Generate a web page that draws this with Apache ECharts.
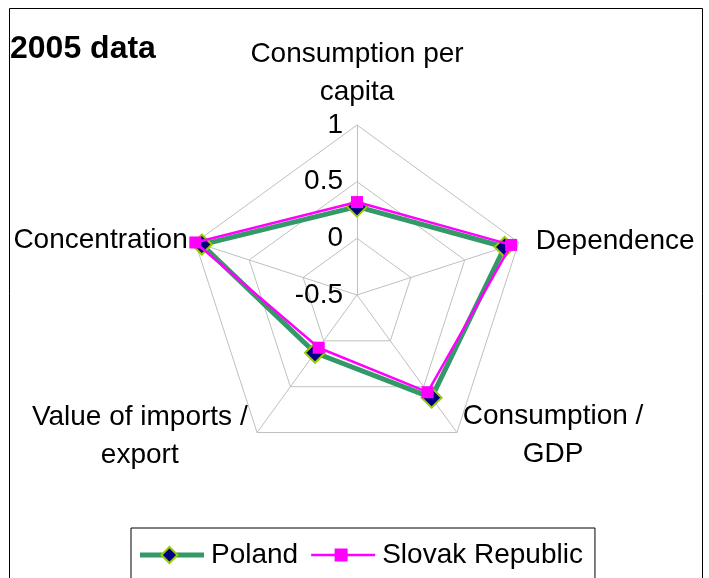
<!DOCTYPE html>
<html>
<head>
<meta charset="utf-8">
<script src="https://cdn.jsdelivr.net/npm/echarts@6/dist/echarts.min.js"></script>
<style>
html,body{margin:0;padding:0;background:#fff;}
#chart{width:709px;height:578px;}
</style>
</head>
<body>
<div id="chart"></div>
<script>
// Indicators listed counter-clockwise starting from the top (ECharts radar order)
var indicators = ['Consumption per\ncapita', 'Concentration', 'Value of imports /\nexport', 'Consumption /\nGDP', 'Dependence'];
var seriesNames = ['Poland', 'Slovak Republic'];
var poland = [0.28, 0.94, 0.13, 0.62, 0.87];
var slovak = [0.32, 1.0, 0.075, 0.56, 0.93];
var axisMin = -0.5, axisMax = 1, axisSplits = 3;
var titleText = '2005 data';

var FONT = 'Liberation Sans, Arial, sans-serif';
var chart = echarts.init(document.getElementById('chart'), null, {renderer: 'canvas'});

var indicatorCfg = indicators.map(function (n, i) {
  var o = {name: n, min: axisMin, max: axisMax};
  if (i === 0) {
    o.axisLabel = {show: true, fontSize: 28, color: '#000', fontFamily: FONT, margin: 14, formatter: function (v) { return String(+v.toFixed(2)); }};
    o.nameGap = 14;
  }
  if (i === 1) { o.nameGap = 8; }
  if (i === 2) { o.nameGap = 16; o.nameTextStyle = {padding: [0, 0, 18, 0]}; }
  if (i === 3) { o.nameGap = 10; o.nameTextStyle = {padding: [0, 0, 10, 0]}; }
  if (i === 4) { o.nameGap = 18; o.nameTextStyle = {padding: [8, 0, 0, 0]}; }
  return o;
});

var legendCommon = {
  left: 131, top: 528, orient: 'horizontal',
  padding: [13, 12, 30, 9], itemGap: 13, itemWidth: 64, itemHeight: 16
};

var option = {
  animation: false,
  backgroundColor: '#fff',
  title: {
    text: titleText, left: 10, top: 33, padding: 0,
    textStyle: {fontFamily: FONT, fontSize: 32, fontWeight: 'bold', color: '#000'}
  },
  graphic: [{
    type: 'rect', left: 7, top: 6, silent: true,
    shape: {width: 693, height: 600},
    style: {fill: 'none', stroke: '#000', lineWidth: 1}
  }],
  legend: [Object.assign({}, legendCommon, {
    borderColor: '#000', borderWidth: 1,
    textStyle: {fontFamily: FONT, fontSize: 28, color: '#000', padding: [0, 0, 0, 2]},
    data: [
      {name: seriesNames[0], icon: 'path://M0,0h64v5h-64z', itemStyle: {color: '#339966', borderWidth: 0}},
      {name: seriesNames[1], icon: 'path://M0,0h64v2.5h-64z', itemStyle: {color: '#FF00FF', borderWidth: 0}}
    ]
  }), Object.assign({}, legendCommon, {
    textStyle: {fontFamily: FONT, fontSize: 28, color: 'rgba(0,0,0,0)', padding: [0, 0, 0, 2]},
    data: [
      {name: seriesNames[0], icon: 'path://M0,8M32,-1L41,8L32,17L23,8ZM64,8', itemStyle: {color: '#000080', borderColor: '#99CC00', borderWidth: 2}},
      {name: seriesNames[1], icon: 'path://M0,8M26,2h13v13h-13zM64,8', itemStyle: {color: '#FF00FF', borderWidth: 0}}
    ]
  })],
  radar: {
    center: [357, 295],
    radius: 170,
    startAngle: 90,
    splitNumber: axisSplits,
    shape: 'polygon',
    indicator: indicatorCfg,
    axisName: {
      color: '#000', fontSize: 28, fontFamily: FONT,
      formatter: function (name) {
        return name.split('\n').map(function (s) { return '{c|' + s + '}'; }).join('\n');
      },
      rich: {c: {align: 'center', fontSize: 28, fontFamily: FONT, color: '#000', lineHeight: 38}}
    },
    nameGap: 10,
    axisLine: {lineStyle: {color: '#C0C0C0', width: 1}},
    splitLine: {lineStyle: {color: '#C0C0C0', width: 1}},
    splitArea: {show: false},
    axisTick: {show: false},
    axisLabel: {show: false}
  },
  series: [{
    name: seriesNames[0], type: 'radar', z: 2,
    symbol: 'diamond', symbolSize: 20,
    lineStyle: {color: '#339966', width: 5},
    itemStyle: {color: '#000080', borderColor: '#99CC00', borderWidth: 2},
    data: [{name: seriesNames[0], value: poland}]
  }, {
    name: seriesNames[1], type: 'radar', z: 3,
    symbol: 'rect', symbolSize: 12,
    lineStyle: {color: '#FF00FF', width: 2.5},
    itemStyle: {color: '#FF00FF', borderWidth: 0},
    data: [{name: seriesNames[1], value: slovak}]
  }]
};
chart.setOption(option);
</script>
</body>
</html>
